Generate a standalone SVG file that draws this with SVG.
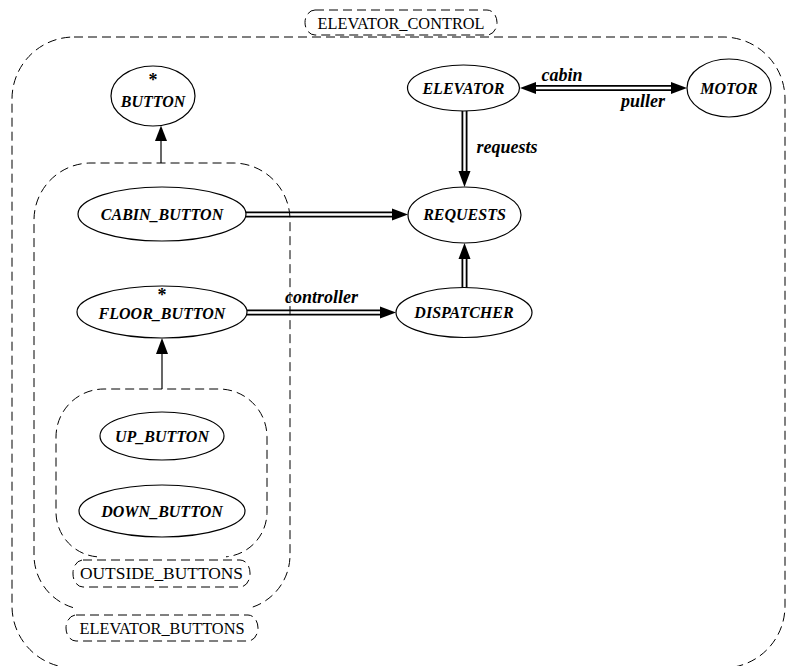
<svg xmlns="http://www.w3.org/2000/svg" width="786" height="666" viewBox="0 0 786 666">
<style>
.node ellipse{fill:#fff;stroke:#000;stroke-width:1.2}
.nt{font-family:"Liberation Serif","Times New Roman",serif;font-size:16px;font-weight:bold;font-style:italic;text-anchor:middle;fill:#000}
.st{font-family:"Liberation Serif","Times New Roman",serif;font-size:18px;font-weight:bold;text-anchor:middle;fill:#000}
.et{font-family:"Liberation Serif","Times New Roman",serif;font-size:18px;font-weight:bold;font-style:italic;text-anchor:middle;fill:#000}
.lt{font-family:"Liberation Serif","Times New Roman",serif;font-size:17px;text-anchor:middle;fill:#000}
.cl{fill:none;stroke:#000;stroke-width:1;stroke-dasharray:9,5}
.lb{fill:#fff;stroke:#000;stroke-width:1;stroke-dasharray:9,5}
.thin{stroke:#000;stroke-width:1.2;fill:none}
.dbo{stroke:#000;stroke-width:6;fill:none}
.dbi{stroke:#fff;stroke-width:2.4;fill:none}
.ah{fill:#000;stroke:none}
</style>

<g id="connectors">
  <g id="e-buttons-button">
    <line class="thin" x1="161" y1="163" x2="161" y2="140"/>
    <polygon class="ah" points="161,125.5 155,141 167,141"/>
  </g>
  <g id="e-outside-floor">
    <line class="thin" x1="162" y1="389" x2="162" y2="353"/>
    <polygon class="ah" points="162,338 156,354 168,354"/>
  </g>
  <g id="e-elevator-motor">
    <line class="dbo" x1="535" y1="88" x2="672" y2="88"/>
    <line class="dbi" x1="534" y1="88" x2="673" y2="88"/>
    <polygon class="ah" points="520,88 536,82 536,94"/>
    <polygon class="ah" points="687,88 671,82 671,94"/>
    <text class="et" x="562" y="81">cabin</text>
    <text class="et" x="643" y="107">puller</text>
  </g>
  <g id="e-elevator-requests">
    <line class="dbo" x1="464.5" y1="111" x2="464.5" y2="173"/>
    <line class="dbi" x1="464.5" y1="110" x2="464.5" y2="174"/>
    <polygon class="ah" points="464.5,187 458.5,171 470.5,171"/>
    <text class="et" x="507" y="153">requests</text>
  </g>
  <g id="e-cabin-requests">
    <line class="dbo" x1="246" y1="214.5" x2="394" y2="214.5"/>
    <line class="dbi" x1="245" y1="214.5" x2="395" y2="214.5"/>
    <polygon class="ah" points="408,214.5 392,208.5 392,220.5"/>
  </g>
  <g id="e-floor-dispatcher">
    <line class="dbo" x1="247" y1="312.5" x2="382" y2="312.5"/>
    <line class="dbi" x1="246" y1="312.5" x2="383" y2="312.5"/>
    <polygon class="ah" points="396,312.5 380,306.5 380,318.5"/>
    <text class="et" x="321.5" y="303">controller</text>
  </g>
  <g id="e-dispatcher-requests">
    <line class="dbo" x1="464.5" y1="288" x2="464.5" y2="257"/>
    <line class="dbi" x1="464.5" y1="289" x2="464.5" y2="256"/>
    <polygon class="ah" points="464.5,243 458.5,259 470.5,259"/>
  </g>
</g>

<g id="ELEVATOR_CONTROL">
  <path class="cl" d="M 74 37 L 723 37 A 62 62 0 0 1 785 99 L 785 606 A 62 62 0 0 1 723 668 L 74 668 A 62 62 0 0 1 12 606 L 12 99 A 62 62 0 0 1 74 37 Z"/>
  <rect class="lb" x="305" y="10" width="192" height="25" rx="10" ry="12.5"/>
  <text class="lt" x="401" y="28.5" textLength="167" lengthAdjust="spacingAndGlyphs">ELEVATOR_CONTROL</text>
</g>

<g id="ELEVATOR_BUTTONS">
  <path class="cl" d="M 73 607.6 A 55 55 0 0 1 34 555 L 34 220 A 57 57 0 0 1 91 163 L 233 163 A 57 57 0 0 1 290 220 L 290 555 A 55 55 0 0 1 251 607.6"/>
  <rect class="lb" x="66" y="615" width="192" height="26" rx="10" ry="13"/>
  <text class="lt" x="162" y="634" textLength="165" lengthAdjust="spacingAndGlyphs">ELEVATOR_BUTTONS</text>
</g>

<g id="OUTSIDE_BUTTONS">
  <path class="cl" d="M 97 556.8 A 45 45 0 0 1 56 512 L 56 437 A 48 48 0 0 1 104 389 L 219 389 A 48 48 0 0 1 267 437 L 267 512 A 45 45 0 0 1 226 556.8"/>
  <rect class="lb" x="73" y="560" width="177" height="27" rx="10" ry="13"/>
  <text class="lt" x="161.5" y="579" textLength="163" lengthAdjust="spacingAndGlyphs">OUTSIDE_BUTTONS</text>
</g>

<g id="BUTTON" class="node">
  <ellipse cx="153" cy="96" rx="42" ry="30"/>
  <text class="st" x="153" y="86">*</text>
  <text class="nt" x="153" y="107">BUTTON</text>
</g>
<g id="ELEVATOR" class="node">
  <ellipse cx="463.5" cy="88" rx="56" ry="23"/>
  <text class="nt" x="463.5" y="94">ELEVATOR</text>
</g>
<g id="MOTOR" class="node">
  <ellipse cx="729" cy="88" rx="42" ry="29"/>
  <text class="nt" x="729" y="94">MOTOR</text>
</g>
<g id="CABIN_BUTTON" class="node">
  <ellipse cx="162" cy="214" rx="84" ry="27"/>
  <text class="nt" x="162" y="220">CABIN_BUTTON</text>
</g>
<g id="REQUESTS" class="node">
  <ellipse cx="464.5" cy="215" rx="56.5" ry="28"/>
  <text class="nt" x="464.5" y="220">REQUESTS</text>
</g>
<g id="FLOOR_BUTTON" class="node">
  <ellipse cx="162" cy="312" rx="85" ry="26"/>
  <text class="st" x="162" y="301">*</text>
  <text class="nt" x="162" y="319">FLOOR_BUTTON</text>
</g>
<g id="DISPATCHER" class="node">
  <ellipse cx="464" cy="312.5" rx="68" ry="25"/>
  <text class="nt" x="464" y="318">DISPATCHER</text>
</g>
<g id="UP_BUTTON" class="node">
  <ellipse cx="162" cy="436" rx="62" ry="24"/>
  <text class="nt" x="162" y="442">UP_BUTTON</text>
</g>
<g id="DOWN_BUTTON" class="node">
  <ellipse cx="162" cy="511" rx="83" ry="26"/>
  <text class="nt" x="162" y="517">DOWN_BUTTON</text>
</g>
</svg>
